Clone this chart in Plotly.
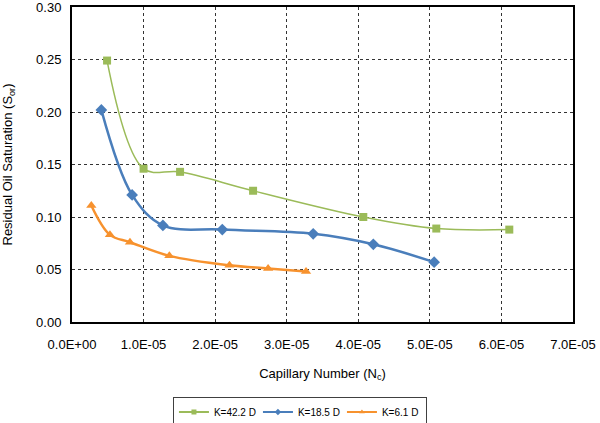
import plotly.graph_objects as go

# Data
k422_x = [0.49e-5, 1.00e-5, 1.51e-5, 2.53e-5, 4.07e-5, 5.09e-5, 6.11e-5]
k422_y = [0.249, 0.146, 0.143, 0.125, 0.100, 0.089, 0.088]

k185_x = [0.41e-5, 0.84e-5, 1.27e-5, 2.10e-5, 3.37e-5, 4.21e-5, 5.06e-5]
k185_y = [0.202, 0.121, 0.092, 0.088, 0.084, 0.074, 0.057]

k61_x = [0.27e-5, 0.53e-5, 0.81e-5, 1.36e-5, 2.20e-5, 2.74e-5, 3.27e-5]
k61_y = [0.111, 0.083, 0.076, 0.063, 0.054, 0.051, 0.048]

series_names = ["K=42.2 D", "K=18.5 D", "K=6.1 D"]
series_colors = ["#9BBB59", "#4A7EBB", "#F7922E"]
series_symbols = ["square", "diamond", "triangle-up"]

x_ticks = [0, 1e-5, 2e-5, 3e-5, 4e-5, 5e-5, 6e-5, 7e-5]
x_tick_labels = ["0.0E+00", "1.0E-05", "2.0E-05", "3.0E-05", "4.0E-05", "5.0E-05", "6.0E-05", "7.0E-05"]
y_ticks = [0, 0.05, 0.10, 0.15, 0.20, 0.25, 0.30]
y_tick_labels = ["0.00", "0.05", "0.10", "0.15", "0.20", "0.25", "0.30"]

xs = [k422_x, k185_x, k61_x]
ys = [k422_y, k185_y, k61_y]
line_widths = [1.5, 2.5, 2.5]
marker_sizes = [8, 9, 9]

fig = go.Figure()
for x, y, name, color, sym, lw, ms in zip(xs, ys, series_names, series_colors,
                                          series_symbols, line_widths, marker_sizes):
    fig.add_trace(go.Scatter(
        x=x, y=y, name=name, mode="lines+markers", showlegend=False,
        line=dict(color=color, width=lw, shape="spline", smoothing=1.0),
        marker=dict(symbol=sym, size=ms, color=color)))
# legend-only entries with small glyphs, like the reference legend
for name, color, sym in zip(series_names, series_colors, series_symbols):
    fig.add_trace(go.Scatter(
        x=[None], y=[None], name=name, mode="lines+markers", showlegend=True,
        line=dict(color=color, width=2),
        marker=dict(symbol=sym, size=5, color=color)))

fig.update_layout(
    width=600, height=423,
    margin=dict(l=72, r=27, t=7, b=101, autoexpand=False),
    paper_bgcolor="white", plot_bgcolor="white",
    font=dict(family="Liberation Sans, Arial, sans-serif", size=13, color="black"),
    showlegend=True,
    legend=dict(orientation="h", x=0.455, xanchor="center",
                y=(322 - 412) / 315, yanchor="middle",
                bordercolor="#404040", borderwidth=1,
                font=dict(size=10), itemwidth=30,
                entrywidth=39, entrywidthmode="pixels"),
)
fig.update_xaxes(
    range=[0, 7e-5], tickvals=x_ticks, ticktext=x_tick_labels,
    showgrid=True, gridcolor="#333333", griddash="dot", gridwidth=1,
    showline=True, linecolor="black", linewidth=2, mirror=True,
    zeroline=False, ticks="", tickfont=dict(size=13), ticklabelstandoff=9,
    ticklabeloverflow="allow", automargin=False,
    title=dict(text="Capillary Number (N<sub>c</sub>)", font=dict(size=13), standoff=18))
fig.update_yaxes(
    range=[0, 0.30], tickvals=y_ticks, ticktext=y_tick_labels,
    showgrid=True, gridcolor="#333333", griddash="dot", gridwidth=1,
    showline=True, linecolor="black", linewidth=2, mirror=True,
    zeroline=False, ticks="", tickfont=dict(size=13), ticklabelstandoff=6,
    ticklabeloverflow="allow", automargin=False,
    title=dict(text="Residual Oil Saturation (S<sub>or</sub>)", font=dict(size=13), standoff=23))

fig.write_html("out.html", config={"displayModeBar": False},
               post_script="document.body.style.margin='0';")
